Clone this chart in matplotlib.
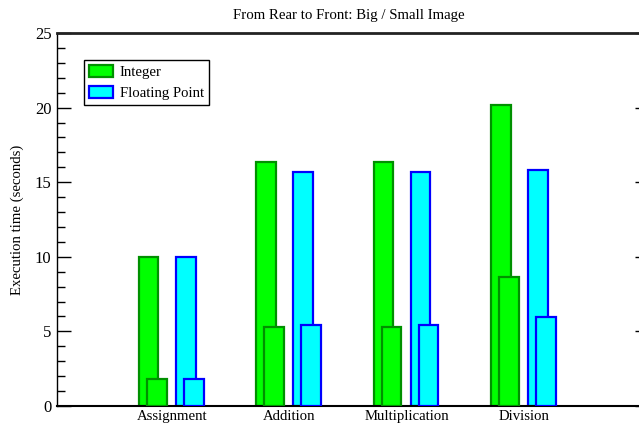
import matplotlib.pyplot as plt
import numpy as np
from matplotlib.ticker import MultipleLocator

categories = ["Assignment", "Addition", "Multiplication", "Division"]
int_big = [10.0, 16.37, 16.33, 20.17]
int_small = [1.81, 5.27, 5.32, 8.62]
float_big = [9.97, 15.7, 15.66, 15.82]
float_small = [1.8, 5.45, 5.45, 5.95]

plt.rcParams["font.family"] = ["Liberation Serif", "DejaVu Serif"]

fig = plt.figure(figsize=(6.39, 4.26), dpi=100)
ax = fig.add_axes([57 / 639, 20 / 426, 583.5 / 639, 373 / 426])

x = np.arange(1, len(categories) + 1)
w = 0.167
green_edge = "#009000"
ax.bar(x - 0.20, int_big, width=w, fc="#00ff00", ec=green_edge, lw=1.6, zorder=2, label="Integer")
ax.bar(x + 0.117, float_big, width=w, fc="#00ffff", ec="#0000ff", lw=1.6, zorder=2, label="Floating Point")
ax.bar(x - 0.13, int_small, width=w, fc="#00ff00", ec=green_edge, lw=1.6, zorder=3)
ax.bar(x + 0.185, float_small, width=w, fc="#00ffff", ec="#0000ff", lw=1.6, zorder=3)

ax.set_xlim(0.02, 4.99)
ax.set_ylim(0, 25)
ax.set_xticks(x)
ax.set_xticklabels(categories, fontsize=10.6)
ax.tick_params(axis="x", length=0, pad=3)
ax.yaxis.set_major_locator(MultipleLocator(5))
ax.yaxis.set_minor_locator(MultipleLocator(1))
ax.tick_params(axis="y", which="major", direction="in", length=10, width=1, labelsize=12, right=True, pad=4)
ax.tick_params(axis="y", which="minor", direction="in", length=6, width=1)
ax.tick_params(axis="y", which="minor", right=False)
for t in ax.yaxis.get_major_ticks():
    t.tick2line.set_markersize(4.5)

ax.spines["top"].set_linewidth(2)
ax.spines["top"].set_color("#222222")
ax.spines["bottom"].set_linewidth(1.5)
ax.spines["left"].set_linewidth(1)
ax.spines["right"].set_linewidth(1)

ax.set_ylabel("Execution time (seconds)", fontsize=10.6, labelpad=8)
ax.set_title("From Rear to Front: Big / Small Image", fontsize=10.7, pad=10)

leg = ax.legend(loc="upper left", bbox_to_anchor=(0.046, 0.928), borderaxespad=0,
                fancybox=False, framealpha=1, edgecolor="black", fontsize=10.6,
                handlelength=1.6, handleheight=0.85, labelspacing=0.5,
                handletextpad=0.5, borderpad=0.35)
leg.get_frame().set_linewidth(1)

fig.savefig("out.png", dpi=100)
